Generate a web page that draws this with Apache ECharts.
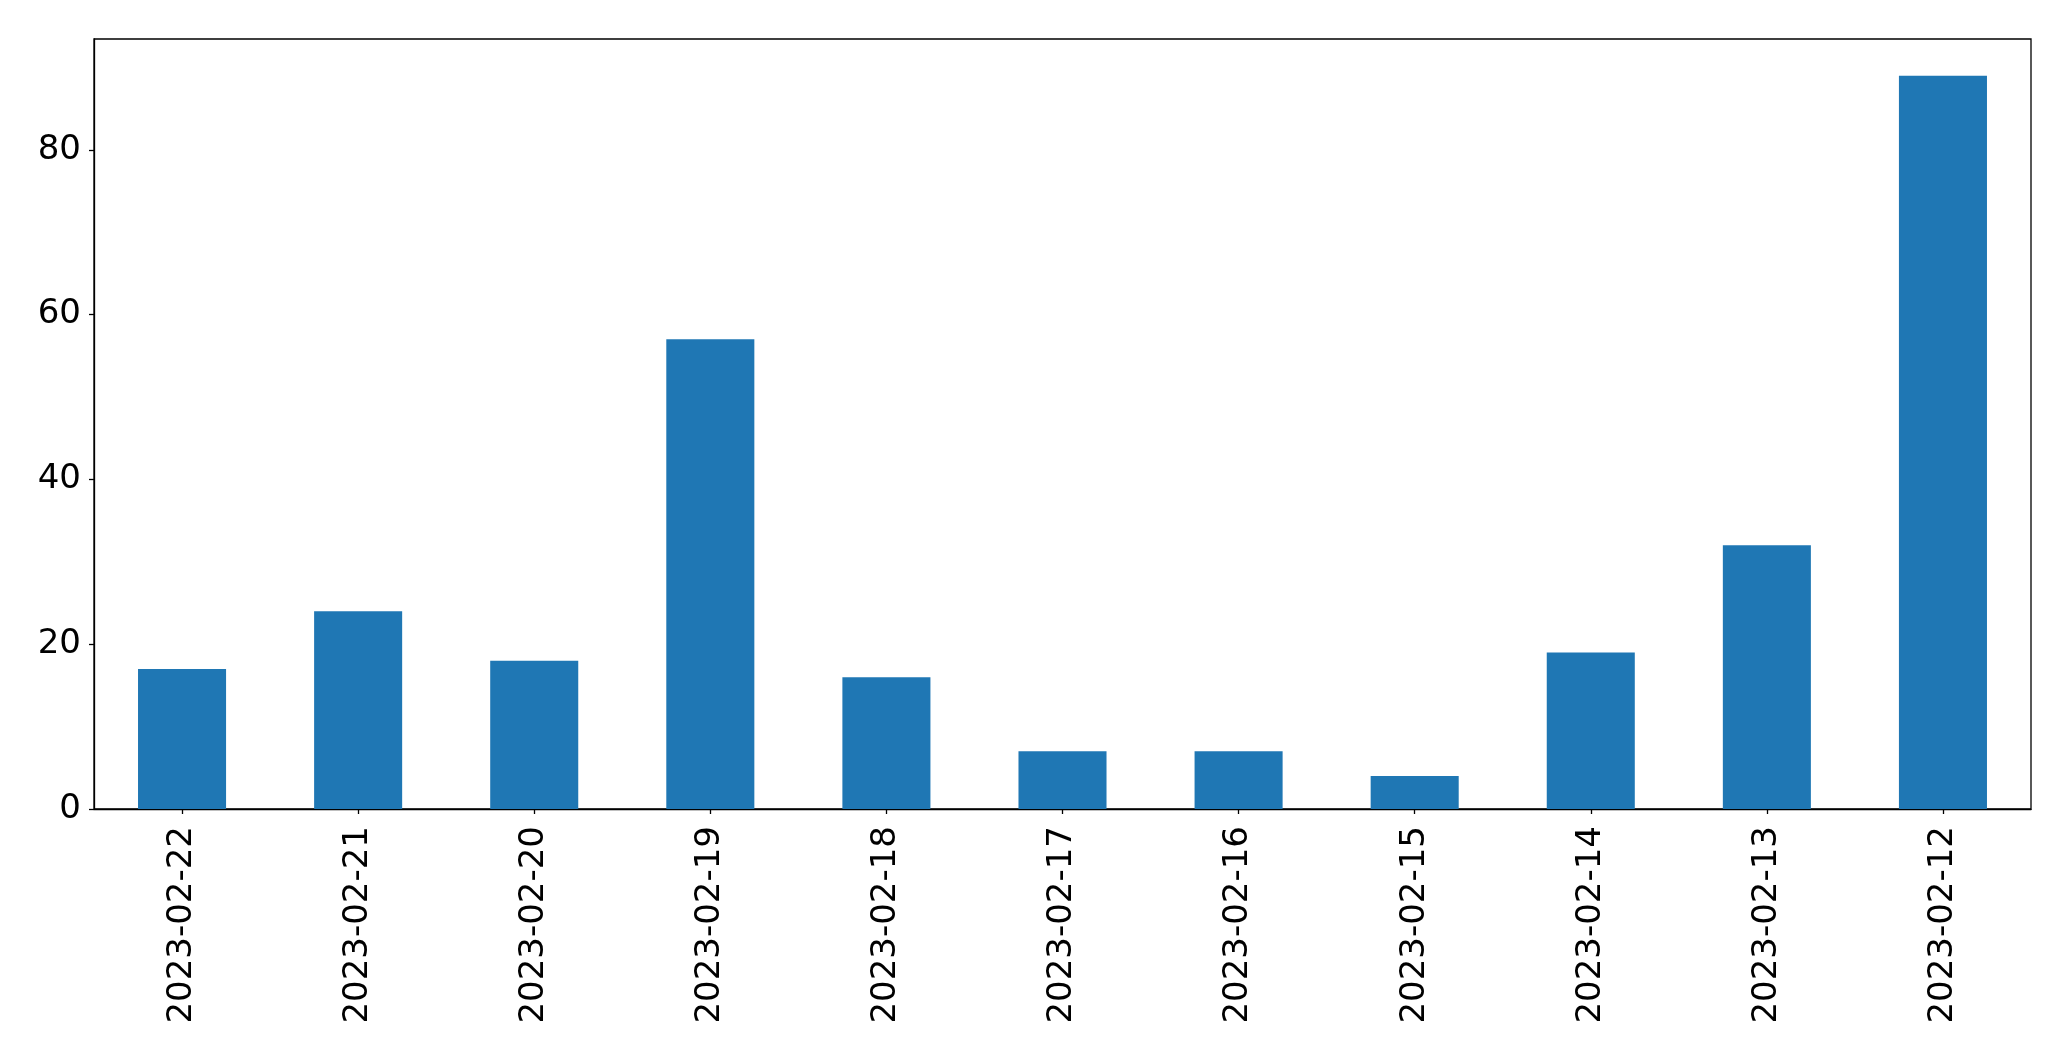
<!DOCTYPE html>
<html><head><meta charset="utf-8">
<script src="https://cdn.jsdelivr.net/npm/echarts@6/dist/echarts.min.js"></script>
<style>html,body{margin:0;padding:0;background:#fff}#c{width:2071px;height:1061px}</style>
</head><body><div id="c"></div>
<script>
const categories = ["2023-02-22","2023-02-21","2023-02-20","2023-02-19","2023-02-18","2023-02-17","2023-02-16","2023-02-15","2023-02-14","2023-02-13","2023-02-12"];
const values = [17, 24, 18, 57, 16, 7, 7, 4, 19, 32, 89];
const yTicks = [0, 20, 40, 60, 80];

const chart = echarts.init(document.getElementById('c'), null, {renderer: 'canvas'});
const font = 'DejaVu Sans';
chart.setOption({
  animation: false,
  backgroundColor: '#fff',
  grid: {left: 94, top: 39, width: 1937, height: 770, show: true, borderColor: '#000', borderWidth: 1.3, backgroundColor: 'transparent'},
  xAxis: {
    type: 'category', data: categories, boundaryGap: true,
    axisLine: {show: true, lineStyle: {color: '#000', width: 1.3}},
    axisTick: {show: true, alignWithLabel: true, length: 5, lineStyle: {color: '#000', width: 1.3}},
    axisLabel: {rotate: 90, margin: 17, color: '#000', fontFamily: font, fontSize: 34, interval: 0}
  },
  yAxis: {
    type: 'value', min: 0, max: 93.45,
    axisLine: {show: true, lineStyle: {color: '#000', width: 1.3}},
    axisTick: {show: true, length: 5, customValues: yTicks, lineStyle: {color: '#000', width: 1.3}},
    splitLine: {show: false},
    axisLabel: {margin: 13, color: '#000', fontFamily: font, fontSize: 34, customValues: yTicks}
  },
  series: [{type: 'bar', data: values, barWidth: '50%', itemStyle: {color: '#1f77b4'}}]
});
</script></body></html>
